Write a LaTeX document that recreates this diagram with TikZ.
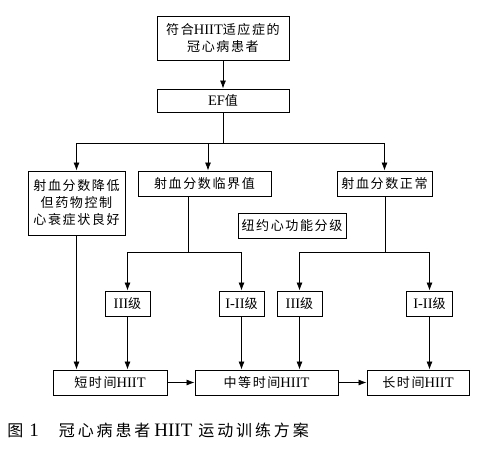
\documentclass[tikz,border=0pt]{standalone}
\usepackage{fontspec}
\usetikzlibrary{arrows.meta}
\setmainfont{Liberation Serif}
\newfontfamily\cjk[Scale=0.9,LetterSpace=12]{Noto Sans CJK SC}
\newfontfamily\cjkcap[LetterSpace=18]{Noto Sans CJK SC}
\newcommand{\zh}[1]{{\cjk #1}}
\begin{document}
\begin{tikzpicture}[x=1pt,y=-1pt,line width=0.8pt,>={Latex[length=8pt,width=6pt]},
  box/.style={draw,line width=0.9pt,inner sep=0pt,align=center,minimum height=25,
    font=\fontsize{14.5}{17}\selectfont}]
  \useasboundingbox[fill=white] (0,0) rectangle (487,455);
  % top of the tree
  \node[box,minimum width=132,minimum height=44] (top) at (223,38) {\zh{符合}HIIT\zh{适应症的}\\\zh{冠心病患者}};
  \node[box,minimum width=132,minimum height=23] (ef) at (223,100.5) {EF\zh{值}};
  % ejection fraction
  \node[box,minimum width=97,minimum height=64] (low) at (76.5,203) {\zh{射血分数降低}\\\zh{但药物控制}\\\zh{心衰症状良好}};
  \node[box,minimum width=133] (mid) at (204.5,183.5) {\zh{射血分数临界值}};
  \node[box,minimum width=95] (norm) at (384.5,183.5) {\zh{射血分数正常}};
  \node[box,minimum width=108] (nyha) at (292,225.5) {\zh{纽约心功能分级}};
  % NYHA classes
  \node[box,minimum width=45] (gA) at (127.5,303.5) {III\zh{级}};
  \node[box,minimum width=45] (gB) at (241.5,303.5) {I-II\zh{级}};
  \node[box,minimum width=45] (gC) at (299.5,303.5) {III\zh{级}};
  \node[box,minimum width=46] (gD) at (429.5,303.5) {I-II\zh{级}};
  % training length
  \node[box,minimum width=114] (short) at (110,382.5) {\zh{短时间}HIIT};
  \node[box,minimum width=143] (medium) at (266.5,382.5) {\zh{中等时间}HIIT};
  \node[box,minimum width=102] (long) at (418,382.5) {\zh{长时间}HIIT};
  \node[anchor=west,inner sep=0pt,font=\fontsize{16}{18}\selectfont] (cap) at (7,430)
    {{\cjkcap 图}\hspace{6pt}{\fontsize{19}{20}\selectfont 1}\hspace{20pt}{\cjkcap 冠心病患者}\hspace{4pt}{\fontsize{19}{20}\selectfont HIIT}\hspace{6pt}{\cjkcap 运动训练方案}};
  \coordinate (s1) at (223,143);
  \coordinate (s2) at (188,252);
  \coordinate (s3) at (385,252);
  \draw[->] (top) -- (ef);
  \draw (ef) -- (s1);
  \draw[->] (s1) -| (low.north);
  \draw[->] (s1) -| ([xshift=3.5]mid.north);
  \draw[->] (s1) -| (norm.north);
  \draw (s2 |- mid.south) -- (s2);
  \draw[->] (s2) -| (gA);
  \draw[->] (s2) -| (gB);
  \draw (s3 |- norm.south) -- (s3);
  \draw[->] (s3) -| (gC);
  \draw[->] (s3) -| (gD);
  \draw[->] (low) -- (low |- short.north);
  \draw[->] (gA) -- (gA |- short.north);
  \draw[->] (gB) -- (gB |- medium.north);
  \draw[->] (gC) -- (gC |- medium.north);
  \draw[->] (gD) -- (gD |- long.north);
  \draw[->] (short) -- (medium);
  \draw[->] (medium) -- (long);
\end{tikzpicture}
\end{document}
